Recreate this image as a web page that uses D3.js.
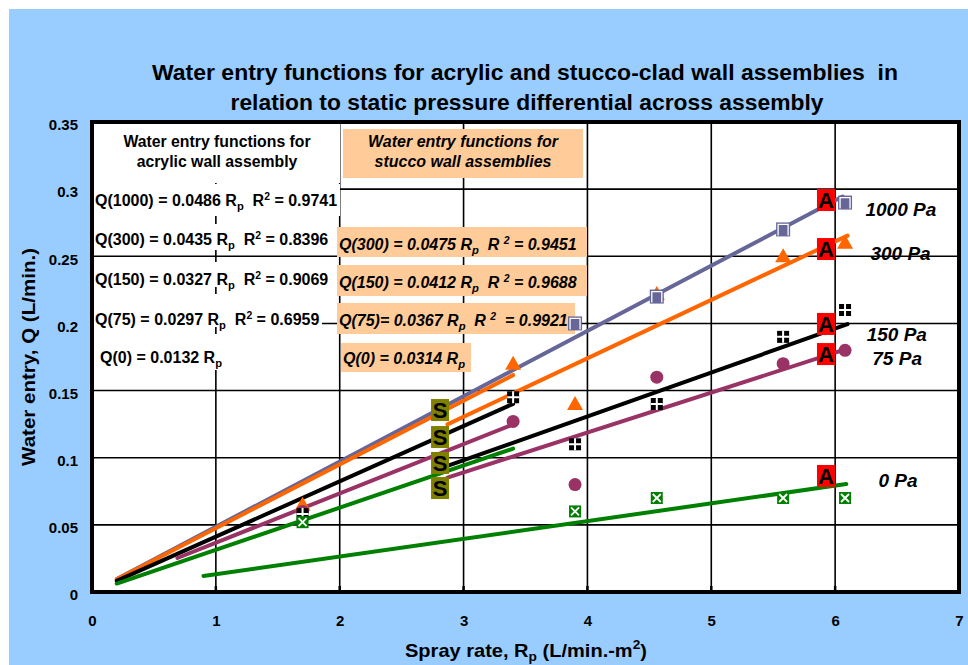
<!DOCTYPE html>
<html><head><meta charset="utf-8">
<script src="https://cdn.jsdelivr.net/npm/d3@7"></script>
<style>
html,body{margin:0;padding:0;background:#fff;}
svg{display:block;}
text{font-family:"Liberation Sans",Arial,sans-serif;font-weight:bold;fill:#000;}
.narrow{font-family:"Liberation Sans Narrow","Arial Narrow","Liberation Sans",sans-serif;}
</style></head>
<body>
<svg id="chart" width="968" height="665"></svg>
<script>
// ---------- data ----------
const xTickValues = [0,1,2,3,4,5,6,7];
const yTickValues = [0,0.05,0.1,0.15,0.2,0.25,0.3,0.35];
const yTickLabels = ["0","0.05","0.1","0.15","0.2","0.25","0.3","0.35"];

const sprayRate = [1.7, 3.4, 3.9, 4.56, 5.58, 6.08];
const q1000 = [null, null, 0.2, 0.22, 0.27, 0.29];
const q300  = [0.065, 0.17, 0.14, 0.222, 0.25, 0.26];
const q150  = [0.058, 0.145, 0.11, 0.14, 0.19, 0.21];
const q75   = [0.06, 0.127, 0.08, 0.16, 0.17, 0.18];
const q0    = [0.052, null, 0.06, 0.07, 0.07, 0.07];

// fitted lines (Q = slope * Rp)
const acrylicPressure = ["1000","300","150","75","0"];
const acrylicSlope = [0.0486, 0.0435, 0.0327, 0.0297, 0.0132];
const acrylicFrom  = [0.2, 2.87, 2.87, 2.87, 0.9];
const acrylicTo    = [6.06, 6.1, 6.1, 6.1, 6.09];
const stuccoPressure = ["300","150","75","0"];
const stuccoSlope = [0.0475, 0.0412, 0.0367, 0.0314];
const stuccoFrom  = [0.2, 0.2, 0.69, 0.2];
const stuccoTo    = [3.4, 3.4, 3.4, 3.4];

// "S" and "A" tags
const sTagX = [2.81, 2.81, 2.81, 2.81];
const sTagY = [0.1355, 0.1154, 0.0961, 0.0774];
const aTagX = [5.926, 5.926, 5.926, 5.926, 5.926];
const aTagY = [0.2919, 0.2554, 0.1996, 0.1772, 0.0864];

const pressureLabels = ["1000 Pa","300 Pa","150 Pa","75 Pa","0 Pa"];
const pressureLabelX = [6.245, 6.285, 6.255, 6.3, 6.35];
const pressureLabelY = [0.2855, 0.2525, 0.1925, 0.174, 0.0834];

const acrylicTitle = ["Water entry functions for","acrylic wall assembly"];
const acrylicEq = [
  ["Q(1000) = 0.0486 R","p","  R","2"," = 0.9741"],
  ["Q(300) = 0.0435 R","p","  R","2"," = 0.8396"],
  ["Q(150) = 0.0327 R","p","  R","2"," = 0.9069"],
  ["Q(75) = 0.0297 R","p","  R","2"," = 0.6959"],
  ["Q(0) = 0.0132 R","p","","",""]
];
const stuccoTitle = ["Water entry functions for","stucco wall assemblies"];
const stuccoEq = [
  ["Q(300) = 0.0475 R","p","  R ","2"," = 0.9451"],
  ["Q(150) = 0.0412 R","p","  R ","2"," = 0.9688"],
  ["Q(75)= 0.0367 R","p","  R ","2","  = 0.9921"],
  ["Q(0) = 0.0314 R","p","","",""]
];

const colors = {"1000":"#666699","300":"#FF6600","150":"#000000","75":"#993366","0":"#008000"};

// ---------- layout ----------
const svg = d3.select("#chart");
const x = d3.scaleLinear().domain([0,7]).range([92,959]);
const y = d3.scaleLinear().domain([0,0.35]).range([592,122]);

svg.append("rect").attr("x",9).attr("y",9).attr("width",959).attr("height",656).attr("fill","#99CCFF");
svg.append("rect").attr("x",x(0)).attr("y",y(0.35)).attr("width",x(7)-x(0)).attr("height",y(0)-y(0.35)).attr("fill","#fff");

// grid
const grid = svg.append("g");
grid.selectAll("line.v").data(xTickValues.slice(1,-1)).enter().append("line")
  .attr("x1",d=>x(d)).attr("x2",d=>x(d)).attr("y1",y(0.35)).attr("y2",y(0))
  .attr("stroke","#000").attr("stroke-width",1.6);
grid.selectAll("line.h").data(yTickValues.slice(1,-1)).enter().append("line")
  .attr("y1",d=>y(d)).attr("y2",d=>y(d)).attr("x1",x(0)).attr("x2",x(7))
  .attr("stroke","#000").attr("stroke-width",1.6);

// axes (labels only)
const xAxis = d3.axisBottom(x).tickValues(xTickValues).tickSize(0).tickPadding(0).tickFormat(d3.format("d"));
const gx = svg.append("g").attr("transform",`translate(0,${y(0)+23})`).call(xAxis);
gx.select(".domain").remove();
gx.selectAll("text").attr("font-size",15).attr("dy","0.35em").attr("y",6).attr("font-family","Liberation Sans").attr("font-weight","bold");
const yAxis = d3.axisLeft(y).tickValues(yTickValues).tickSize(0).tickPadding(0).tickFormat((d,i)=>yTickLabels[i]);
const gy = svg.append("g").attr("transform",`translate(${x(0)-14},3)`).call(yAxis);
gy.select(".domain").remove();
gy.selectAll("text").attr("font-size",15).attr("font-family","Liberation Sans").attr("font-weight","bold");
// bottom tick marks
svg.append("g").selectAll("line").data(xTickValues.slice(1,-1)).enter().append("line")
  .attr("x1",d=>x(d)).attr("x2",d=>x(d)).attr("y1",y(0)-6).attr("y2",y(0))
  .attr("stroke","#000").attr("stroke-width",2.5);

// legend boxes (acrylic - white)
const leftBoxes = [[92,122,248,61],[92,184,248,32],[93,224,244,26],[92,262,245,25],[92,294,230,33],[95,334,130,36]];
svg.append("g").selectAll("rect").data(leftBoxes).enter().append("rect")
  .attr("x",d=>d[0]).attr("y",d=>d[1]).attr("width",d=>d[2]).attr("height",d=>d[3]).attr("fill","#fff");
// stucco boxes - orange
const rightBoxes = [[343,129,240,49],[337,227,250,30],[337,265,250,31],[337,303,238,31],[341,343,130,29]];
svg.append("g").selectAll("rect").data(rightBoxes).enter().append("rect")
  .attr("x",d=>d[0]).attr("y",d=>d[1]).attr("width",d=>d[2]).attr("height",d=>d[3]).attr("fill","#FFCC99");

const lt = svg.append("g");
acrylicTitle.forEach((t,i)=>lt.append("text").attr("x",217).attr("y",147+i*20).attr("text-anchor","middle").attr("font-size",15.8).text(t));
const leftEqX = [95,95,95,95,100];
const leftEqY = [200,239,279,319,357];
function eqText(g, parts, x0, yc, fs, italic){
  const t = g.append("text").attr("x",x0).attr("y",yc+fs*0.36).attr("font-size",fs).attr("xml:space","preserve")
    .style("white-space","pre");
  if(italic) t.attr("font-style","italic");
  t.append("tspan").text(parts[0]);
  t.append("tspan").attr("font-size",fs*0.7).attr("dy",4).text(parts[1]);
  if(parts[2]!==""){
    t.append("tspan").attr("dy",-4).text(parts[2]);
    t.append("tspan").attr("font-size",fs*0.65).attr("dy",-6).text(parts[3]);
    t.append("tspan").attr("dy",6).text(parts[4]);
  }
}
acrylicEq.forEach((p,i)=>eqText(lt,p,leftEqX[i],leftEqY[i],16,false));
stuccoTitle.forEach((t,i)=>lt.append("text").attr("x",463).attr("y",147+i*20).attr("text-anchor","middle").attr("font-size",16).attr("font-style","italic").text(t));
const rightEqX = [339,339,339,343];
const rightEqY = [244,282,320,358];
stuccoEq.forEach((p,i)=>eqText(lt,p,rightEqX[i],rightEqY[i],16,true));

// fit lines
const line = d3.line().x(d=>x(d[0])).y(d=>y(d[1]));
const lines = svg.append("g").attr("fill","none").attr("stroke-width",4).attr("stroke-linecap","round");
acrylicPressure.forEach((p,i)=>{
  lines.append("path").attr("stroke",colors[p])
    .attr("d",line([[acrylicFrom[i],acrylicSlope[i]*acrylicFrom[i]],[acrylicTo[i],acrylicSlope[i]*acrylicTo[i]]]));
});
stuccoPressure.forEach((p,i)=>{
  lines.append("path").attr("stroke",colors[p])
    .attr("d",line([[stuccoFrom[i],stuccoSlope[i]*stuccoFrom[i]],[stuccoTo[i],stuccoSlope[i]*stuccoTo[i]]]));
});

// markers
const mk = svg.append("g");
function pts(arr){ return sprayRate.map((r,i)=>({x:r,y:arr[i]})).filter(d=>d.y!==null); }
mk.append("g").selectAll("path").data(pts(q300)).enter().append("path")
  .attr("transform",d=>`translate(${x(d.x)},${y(d.y)})`).attr("d","M0,-8L8,6L-8,6Z").attr("fill",colors["300"]);
mk.append("g").selectAll("circle").data(pts(q75)).enter().append("circle")
  .attr("cx",d=>x(d.x)).attr("cy",d=>y(d.y)).attr("r",6.5).attr("fill",colors["75"]);
const g150 = mk.append("g").selectAll("g").data(pts(q150)).enter().append("g").attr("transform",d=>`translate(${x(d.x)},${y(d.y)})`);
g150.append("rect").attr("x",-6).attr("y",-6).attr("width",12).attr("height",12).attr("fill","#000");
g150.append("path").attr("d","M0,-6V6M-6,0H6").attr("stroke","#fff").attr("stroke-width",2);
const g0 = mk.append("g").selectAll("g").data(pts(q0)).enter().append("g").attr("transform",d=>`translate(${x(d.x)},${y(d.y)})`);
g0.append("rect").attr("x",-6).attr("y",-6).attr("width",12).attr("height",12).attr("fill",colors["0"]);
g0.append("path").attr("d","M-4,-4L4,4M4,-4L-4,4").attr("stroke","#fff").attr("stroke-width",1.8);
const g1k = mk.append("g").selectAll("g").data(pts(q1000)).enter().append("g").attr("transform",d=>`translate(${x(d.x)},${y(d.y)})`);
g1k.append("rect").attr("x",-7).attr("y",-7).attr("width",14).attr("height",14).attr("fill",colors["1000"]);
g1k.append("path").attr("d","M-5,6V-5H5V6").attr("fill","none").attr("stroke","#fff").attr("stroke-width",1.3);

// S tags
const sg = svg.append("g").selectAll("g").data(sTagX.map((v,i)=>({x:v,y:sTagY[i]}))).enter().append("g")
  .attr("transform",d=>`translate(${x(d.x)},${y(d.y)})`);
sg.append("rect").attr("x",-9).attr("y",-11).attr("width",18).attr("height",22).attr("fill","#808000");
sg.append("text").attr("text-anchor","middle").attr("y",8).attr("font-size",22).text("S");
// A tags
const ag = svg.append("g").selectAll("g").data(aTagX.map((v,i)=>({x:v,y:aTagY[i]}))).enter().append("g")
  .attr("transform",d=>`translate(${x(d.x)},${y(d.y)})`);
ag.append("rect").attr("x",-9).attr("y",-11).attr("width",18).attr("height",22).attr("fill","#FF0000");
ag.append("text").attr("text-anchor","middle").attr("y",8).attr("font-size",22).text("A");

// pressure labels
svg.append("g").selectAll("text").data(pressureLabels).enter().append("text")
  .attr("x",(d,i)=>x(pressureLabelX[i])).attr("y",(d,i)=>y(pressureLabelY[i])+7)
  .attr("font-size",19).attr("font-style","italic").text(d=>d);

// plot border
svg.append("rect").attr("x",x(0)).attr("y",y(0.35)).attr("width",x(7)-x(0)).attr("height",y(0)-y(0.35))
  .attr("fill","none").attr("stroke","#000").attr("stroke-width",4);

// title
svg.append("text").attr("class","narrow").attr("x",525).attr("y",80).attr("text-anchor","middle").attr("font-size",22)
  .attr("textLength",746).attr("lengthAdjust","spacingAndGlyphs").style("white-space","pre")
  .text("Water entry functions for acrylic and stucco-clad wall assemblies  in");
svg.append("text").attr("class","narrow").attr("x",527).attr("y",110).attr("text-anchor","middle").attr("font-size",22)
  .attr("textLength",593).attr("lengthAdjust","spacingAndGlyphs")
  .text("relation to static pressure differential across assembly");

// axis titles
const xt = svg.append("text").attr("class","narrow").attr("x",526).attr("y",657).attr("text-anchor","middle").attr("font-size",19)
  .attr("textLength",242).attr("lengthAdjust","spacingAndGlyphs");
xt.append("tspan").text("Spray rate, R");
xt.append("tspan").attr("font-size",13).attr("dy",4).text("p");
xt.append("tspan").attr("dy",-4).text(" (L/min.-m");
xt.append("tspan").attr("font-size",13).attr("dy",-8).text("2");
xt.append("tspan").attr("dy",8).text(")");
svg.append("text").attr("class","narrow").attr("transform","translate(35,357) rotate(-90)").attr("text-anchor","middle")
  .attr("font-size",19).attr("textLength",218).attr("lengthAdjust","spacingAndGlyphs").text("Water entry, Q (L/min.)");
</script>
</body></html>
